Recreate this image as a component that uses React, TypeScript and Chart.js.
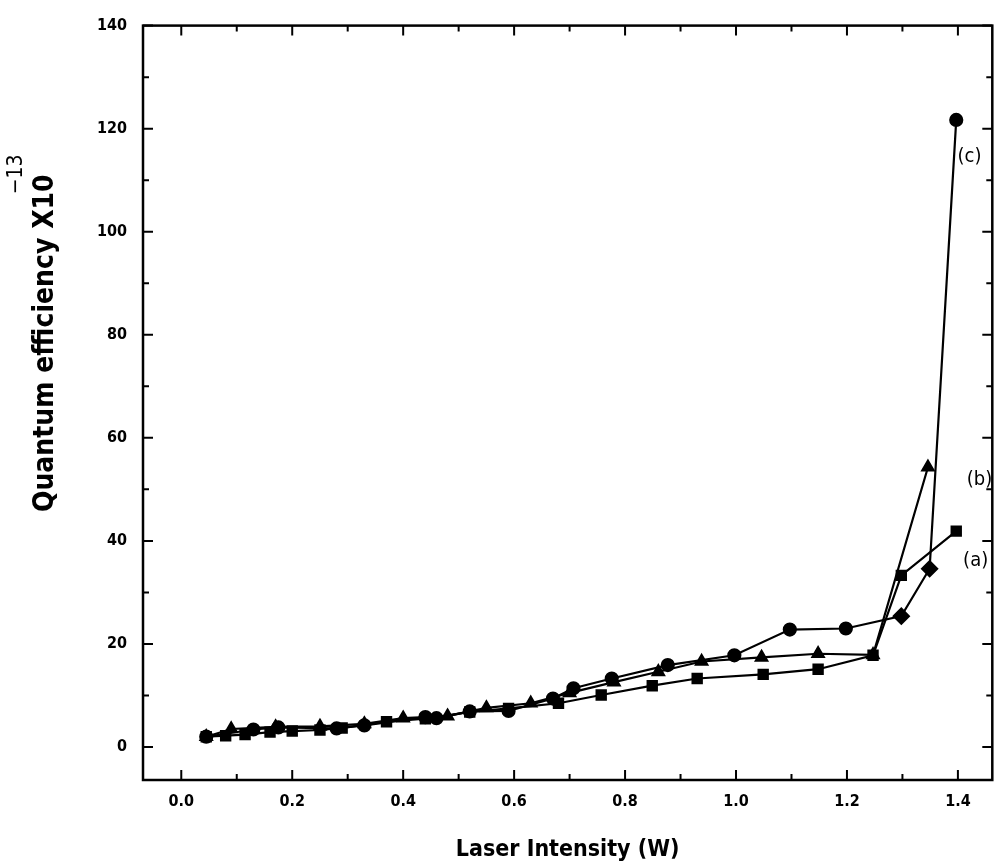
import React, { useEffect, useRef } from "react";
import { Chart, registerables } from "chart.js";

Chart.register(...registerables);

// Series (a): squares
const aX = [0.045, 0.08, 0.115, 0.16, 0.2, 0.25, 0.29, 0.37, 0.44, 0.52, 0.59, 0.68, 0.757, 0.849, 0.93, 1.049, 1.148, 1.247, 1.298, 1.397];
const aY = [2.0, 2.2, 2.4, 2.9, 3.1, 3.3, 3.7, 4.9, 5.5, 6.8, 7.5, 8.5, 10.1, 11.9, 13.3, 14.1, 15.1, 17.8, 33.3, 41.9];
// Series (b): triangles
const bX = [0.045, 0.09, 0.17, 0.25, 0.33, 0.4, 0.48, 0.55, 0.63, 0.7, 0.78, 0.86, 0.938, 1.046, 1.148, 1.247, 1.346];
const bY = [2.0, 3.5, 3.9, 4.0, 4.5, 5.6, 6.0, 7.6, 8.5, 10.5, 12.6, 14.6, 16.6, 17.4, 18.1, 17.9, 54.3];
// Series (c): circles
const cX = [0.045, 0.13, 0.175, 0.28, 0.33, 0.44, 0.46, 0.52, 0.59, 0.67, 0.707, 0.776, 0.877, 0.997, 1.097, 1.198, 1.298, 1.349, 1.397];
const cY = [2.0, 3.4, 3.8, 3.6, 4.2, 5.8, 5.6, 6.9, 7.0, 9.4, 11.4, 13.3, 15.9, 17.8, 22.8, 23.0, 25.4, 34.6, 121.7];

const xTickValues = [0, 0.2, 0.4, 0.6, 0.8, 1.0, 1.2, 1.4];
const xMinorValues = [0.1, 0.3, 0.5, 0.7, 0.9, 1.1, 1.3];
const yTickValues = [0, 20, 40, 60, 80, 100, 120, 140];
const yMinorValues = [10, 30, 50, 70, 90, 110, 130];

const curveLabels = ["(c)", "(b)", "(a)"];
const curveLabelX = [1.421, 1.439, 1.432];
const curveLabelY = [114.5, 51.8, 36.2];

const xTitle = "Laser Intensity (W)";
const yTitleMain = "Quantum efficiency X10";
const yTitleSup = "\u221213";

const FONT = '"Liberation Sans Narrow", "DejaVu Sans Condensed", "Liberation Sans", Arial, sans-serif';

const toPts = (xs: number[], ys: number[]) => xs.map((x, i) => ({ x, y: ys[i] }));

const framePlugin = {
  id: "frame",
  afterDraw(chart: any) {
    const { ctx, chartArea, scales } = chart;
    const { left, right, top, bottom } = chartArea;
    const xs = scales.x;
    const ys = scales.y;
    ctx.save();
    ctx.strokeStyle = "#000";
    ctx.lineWidth = 2.5;
    ctx.strokeRect(left, top, right - left, bottom - top);
    ctx.lineWidth = 2;
    const major = 10;
    const minor = 6;
    const drawX = (v: number, len: number) => {
      const p = xs.getPixelForValue(v);
      ctx.beginPath();
      ctx.moveTo(p, bottom);
      ctx.lineTo(p, bottom - len);
      ctx.moveTo(p, top);
      ctx.lineTo(p, top + len);
      ctx.stroke();
    };
    const drawY = (v: number, len: number) => {
      const p = ys.getPixelForValue(v);
      ctx.beginPath();
      ctx.moveTo(left, p);
      ctx.lineTo(left + len, p);
      ctx.moveTo(right, p);
      ctx.lineTo(right - len, p);
      ctx.stroke();
    };
    xTickValues.forEach((v) => drawX(v, major));
    xMinorValues.forEach((v) => drawX(v, minor));
    yTickValues.forEach((v) => drawY(v, major));
    yMinorValues.forEach((v) => drawY(v, minor));

    // curve labels
    ctx.fillStyle = "#000";
    ctx.font = `20px ${FONT}`;
    ctx.textAlign = "center";
    ctx.textBaseline = "middle";
    curveLabels.forEach((t, i) => {
      ctx.fillText(t, xs.getPixelForValue(curveLabelX[i]), ys.getPixelForValue(curveLabelY[i]));
    });

    // y title with superscript
    ctx.translate(46, 512);
    ctx.rotate(-Math.PI / 2);
    ctx.font = `bold 28px ${FONT}`;
    ctx.textAlign = "left";
    ctx.textBaseline = "middle";
    ctx.fillText(yTitleMain, 0, 0);
    const w = ctx.measureText(yTitleMain).width;
    ctx.font = `21px ${FONT}`;
    ctx.fillText(yTitleSup, w - 20, -29);
    ctx.restore();
  },
};

export default function App() {
  const ref = useRef<HTMLCanvasElement | null>(null);
  useEffect(() => {
    document.body.style.margin = "0";
    const canvas = ref.current;
    if (!canvas) return;
    const common = {
      borderColor: "#000",
      backgroundColor: "#000",
      pointBackgroundColor: "#000",
      pointBorderColor: "#000",
      borderWidth: 2.2,
      showLine: true,
      tension: 0,
    };
    const chart = new Chart(canvas, {
      type: "scatter",
      data: {
        datasets: [
          { ...common, label: "(a)", data: toPts(aX, aY), pointStyle: "rect", pointRadius: 6.5 },
          { ...common, label: "(b)", data: toPts(bX, bY), pointStyle: "triangle", pointRadius: 6.5 },
          {
            ...common,
            label: "(c)",
            data: toPts(cX, cY),
            pointStyle: cX.map((_, i) => (i === 16 || i === 17 ? "rectRot" : "circle")),
            pointRadius: cX.map((_, i) => (i === 16 || i === 17 ? 7.5 : 6)),
          },
        ],
      },
      options: {
        responsive: false,
        animation: false,
        devicePixelRatio: 1,
        layout: { padding: { left: 0, top: 12, right: 3, bottom: 0 } },
        plugins: { legend: { display: false }, tooltip: { enabled: false } },
        scales: {
          x: {
            type: "linear",
            min: -0.069,
            max: 1.462,
            border: { display: false },
            grid: { display: false, drawTicks: false },
            afterBuildTicks: (s: any) => {
              s.ticks = xTickValues.map((v) => ({ value: v }));
            },
            afterFit: (s: any) => {
              s.height = 88;
            },
            ticks: {
              color: "#000",
              padding: 12,
              maxRotation: 0,
              autoSkip: false,
              font: { family: FONT, size: 16, weight: "bold" },
              callback: (v: any) => Number(v).toFixed(1),
            },
            title: {
              display: true,
              text: xTitle,
              color: "#000",
              font: { family: FONT, size: 23, weight: "bold" },
            },
          },
          y: {
            type: "linear",
            min: -6.4,
            max: 140,
            border: { display: false },
            grid: { display: false, drawTicks: false },
            afterBuildTicks: (s: any) => {
              s.ticks = yTickValues.map((v) => ({ value: v }));
            },
            afterFit: (s: any) => {
              s.width = 143;
            },
            ticks: {
              color: "#000",
              padding: 16,
              autoSkip: false,
              font: { family: FONT, size: 16, weight: "bold" },
              callback: (v: any) => String(Math.round(Number(v))),
            },
            title: { display: false },
          },
        },
      },
      plugins: [framePlugin],
    } as any);
    return () => chart.destroy();
  }, []);
  return (
    <div style={{ width: 1001, height: 868 }}>
      <canvas ref={ref} width={1001} height={868} style={{ display: "block" }} />
    </div>
  );
}
